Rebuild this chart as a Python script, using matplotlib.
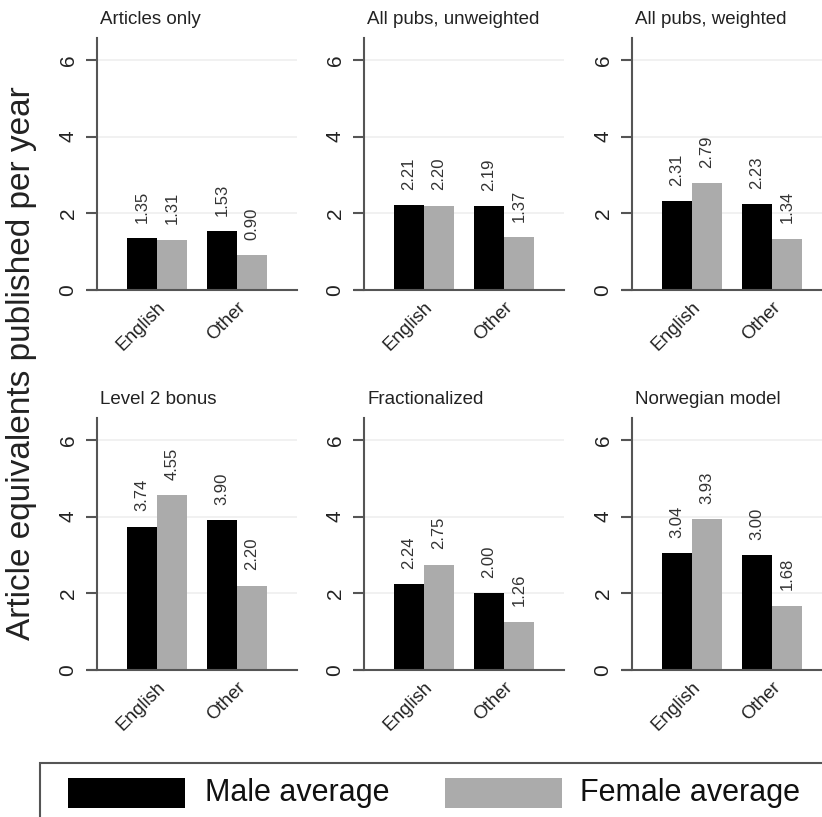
import matplotlib.pyplot as plt
from matplotlib.patches import Rectangle

plt.rcParams['font.family'] = ['Liberation Sans', 'DejaVu Sans']

titles = ['Articles only', 'All pubs, unweighted', 'All pubs, weighted',
          'Level 2 bonus', 'Fractionalized', 'Norwegian model']
groups = ['English', 'Other']
male = [[1.35, 1.53], [2.21, 2.19], [2.31, 2.23],
        [3.74, 3.90], [2.24, 2.00], [3.04, 3.00]]
female = [[1.31, 0.90], [2.20, 1.37], [2.79, 1.34],
          [4.55, 2.20], [2.75, 1.26], [3.93, 1.68]]
yticks = [0, 2, 4, 6]
series = ['Male average', 'Female average']
colors = ['black', '#ababab']

W, H = 822, 817
fig = plt.figure(figsize=(W / 100, H / 100), dpi=100)

lefts = [97, 364, 632]
tops = [38, 418]
bottoms = [290, 670]
axis_col = '#555555'
bw = 0.375

for i in range(6):
    r, c = divmod(i, 3)
    ax = fig.add_axes([lefts[c] / W, 1 - bottoms[r] / H,
                       200 / W, (bottoms[r] - tops[r]) / H])
    x = [0, 1]
    b1 = ax.bar([p - bw / 2 for p in x], male[i], bw, color=colors[0], zorder=3)
    b2 = ax.bar([p + bw / 2 for p in x], female[i], bw, color=colors[1], zorder=3)
    for bars, vals in ((b1, male[i]), (b2, female[i])):
        for b, v in zip(bars, vals):
            ax.annotate(f'{v:.2f}', (b.get_x() + b.get_width() / 2, v),
                        xytext=(0, 11), textcoords='offset points',
                        rotation=90, ha='center', va='bottom',
                        fontsize=12, color='#333333')
    ax.set_xlim(-0.75, 1.75)
    ax.set_ylim(0, 6.57)
    ax.set_yticks(yticks)
    ax.set_yticklabels([str(t) for t in yticks], rotation=90, va='center',
                       fontsize=15, color='#222222')
    ax.set_xticks(x)
    ax.set_xticklabels(groups, rotation=45, ha='right', rotation_mode='anchor',
                       fontsize=13.5, color='#222222')
    ax.tick_params(axis='x', length=0, pad=6)
    ax.tick_params(axis='y', length=8, width=1.5, color=axis_col, pad=6)
    for t in yticks[1:]:
        ax.axhline(t, color='#efefef', lw=1.2, zorder=1)
    for s in ('top', 'right', 'bottom'):
        ax.spines[s].set_visible(False)
    ax.spines['left'].set_color(axis_col)
    ax.spines['left'].set_linewidth(1.5)
    ax.axhline(0, xmin=-0.045, xmax=1, color=axis_col, lw=1.5,
               clip_on=False, zorder=4)
    ax.text(0.015, 1.04, titles[i], transform=ax.transAxes, ha='left',
            va='bottom', fontsize=13.5, color='#222222')

fig.text(22 / W, 1 - 363 / H, 'Article equivalents published per year',
         rotation=90, ha='center', va='center', fontsize=24, color='#222222')

# legend box, cut by the figure edge as in the original
fig.patches.append(Rectangle((40 / W, -0.05), 1.0, (1 - 763 / H) + 0.05,
                             transform=fig.transFigure, facecolor='white',
                             edgecolor=axis_col, lw=1.5))
key_x = [68, 445]
text_x = [205, 580]
for k in range(2):
    fig.patches.append(Rectangle((key_x[k] / W, 1 - 808 / H), 117 / W, 30 / H,
                                 transform=fig.transFigure,
                                 facecolor=colors[k], edgecolor='none'))
    fig.text(text_x[k] / W, 1 - 793 / H, series[k], ha='left', va='center',
             fontsize=22, color='#111111')

fig.savefig('out.png', dpi=100)
